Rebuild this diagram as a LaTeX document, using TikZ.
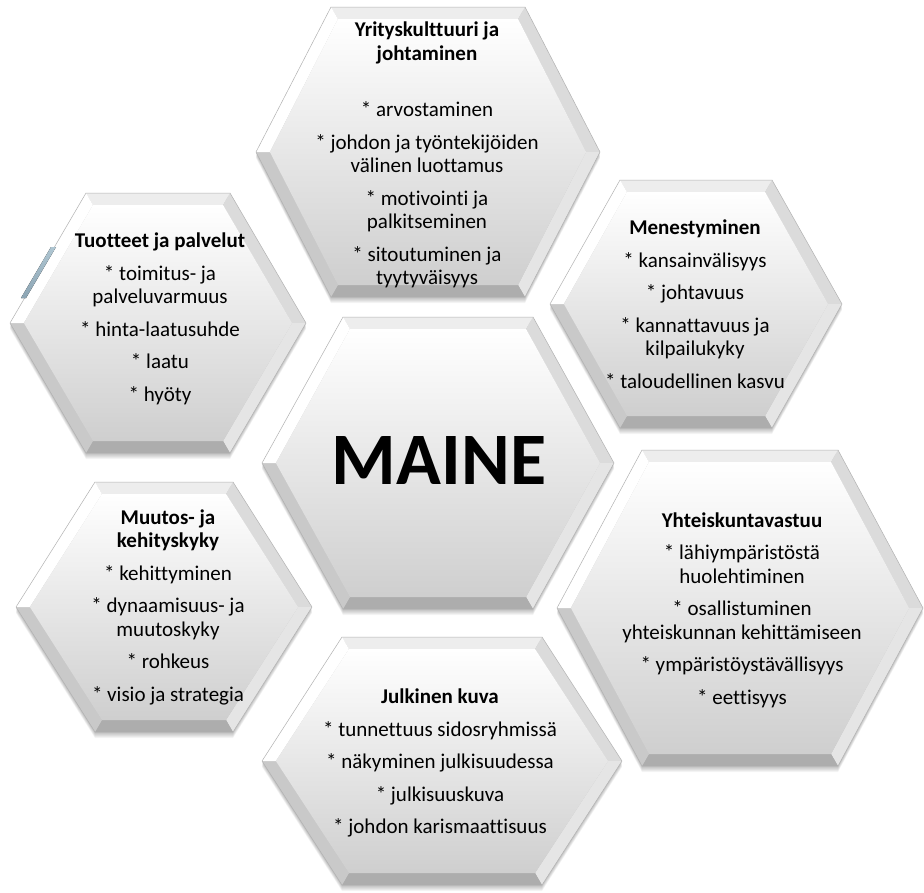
\documentclass[tikz,border=0pt]{standalone}
\usepackage{fontspec}
\setmainfont{Carlito}[Ligatures=NoCommon]
\newcommand\bevw{12}
\tikzset{
  hexface/.style={top color=white, bottom color=black!19},
  celltext/.style={align=center, font=\fontsize{21}{23.5}\selectfont, inner sep=0pt},
  rim/.style={draw=black!30, line width=0.5pt, line join=round},
}
% #1 cx, #2 cy, #3 half top edge, #4 half width, #5 half height
\newcommand\hexcell[5]{%
  \pgfmathsetmacro\xl{#1-#4}%
  \pgfmathsetmacro\xr{#1+#4}%
  \pgfmathsetmacro\xa{#1-#3}%
  \pgfmathsetmacro\xb{#1+#3}%
  \pgfmathsetmacro\yt{#2-#5}%
  \pgfmathsetmacro\yb{#2+#5}%
  \pgfmathsetmacro\ixl{\xl+1.155*\bevw}%
  \pgfmathsetmacro\ixr{\xr-1.155*\bevw}%
  \pgfmathsetmacro\ixa{\xa+0.577*\bevw}%
  \pgfmathsetmacro\ixb{\xb-0.577*\bevw}%
  \pgfmathsetmacro\iyt{\yt+\bevw}%
  \pgfmathsetmacro\iyb{\yb-\bevw}%
  \foreach \s in {1,...,6}{\fill[black,opacity=0.045,shift={(0,\s)}] (\xa,\yt)--(\xb,\yt)--(\xr,#2)--(\xb,\yb)--(\xa,\yb)--(\xl,#2)--cycle;}
  \fill[black!7] (\xa,\yt)--(\xb,\yt)--(\ixb,\iyt)--(\ixa,\iyt)--cycle;
  \fill[black!14] (\xb,\yt)--(\xr,#2)--(\ixr,#2)--(\ixb,\iyt)--cycle;
  \fill[black!10] (\xr,#2)--(\xb,\yb)--(\ixb,\iyb)--(\ixr,#2)--cycle;
  \fill[black!32] (\xb,\yb)--(\xa,\yb)--(\ixa,\iyb)--(\ixb,\iyb)--cycle;
  \fill[black!21] (\xa,\yb)--(\xl,#2)--(\ixl,#2)--(\ixa,\iyb)--cycle;
  \fill[white] (\xl,#2)--(\xa,\yt)--(\ixa,\iyt)--(\ixl,#2)--cycle;
  \shade[hexface] (\ixa,\iyt)--(\ixb,\iyt)--(\ixr,#2)--(\ixb,\iyb)--(\ixa,\iyb)--(\ixl,#2)--cycle;
  \draw[rim] (\xa,\yt)--(\xb,\yt)--(\xr,#2)--(\xb,\yb)--(\xa,\yb)--(\xl,#2)--cycle;
}
\begin{document}
\begin{tikzpicture}[x=1pt,y=-1pt]
\useasboundingbox (0,0) rectangle (924,892);
\fill[white] (0,0) rectangle (924,892);
% hexagons
\hexcell{428}{152}{97}{172}{145}
\hexcell{158}{323}{72}{148}{130}
\hexcell{696}{304}{76}{146}{124}
\hexcell{438}{463}{95}{176}{146}
\hexcell{164}{607}{69}{148}{125}
\hexcell{740}{608}{98}{183}{158}
\hexcell{442}{761}{100}{180}{124}
% small bluish sliver on the left hexagon
\fill[top color={rgb,255:red,175;green,198;blue,210}, bottom color={rgb,255:red,140;green,165;blue,180}] (51,247)--(56,247)--(26,298)--(21,298)--cycle;
% texts
\node[celltext] (yritys) at (427,155) {\textbf{Yrityskulttuuri ja}\\\textbf{johtaminen}\\[33pt]{*} arvostaminen\\[9pt]{*} johdon ja työntekijöiden\\välinen luottamus\\[9pt]{*} motivointi ja\\palkitseminen\\[9pt]{*} sitoutuminen ja\\tyytyväisyys};
\node[celltext] (tuotteet) at (160,319) {\textbf{Tuotteet ja palvelut}\\[9pt]{*} toimitus- ja\\palveluvarmuus\\[9pt]{*} hinta-laatusuhde\\[9pt]{*} laatu\\[9pt]{*} hyöty};
\node[celltext] (menestys) at (695,304) {\textbf{Menestyminen}\\[9pt]{*} kansainvälisyys\\[9pt]{*} johtavuus\\[9pt]{*} kannattavuus ja\\kilpailukyky\\[9pt]{*} taloudellinen kasvu};
\node[celltext] (yhteis) at (742,610) {\textbf{Yhteiskuntavastuu}\\[9pt]{*} lähiympäristöstä\\huolehtiminen\\[9pt]{*} osallistuminen\\yhteiskunnan kehittämiseen\\[9pt]{*} ympäristöystävällisyys\\[9pt]{*} eettisyys};
\node[celltext] (julkinen) at (440,763) {\textbf{Julkinen kuva}\\[9pt]{*} tunnettuus sidosryhmissä\\[9pt]{*} näkyminen julkisuudessa\\[9pt]{*} julkisuuskuva\\[9pt]{*} johdon karismaattisuus};
\node[celltext] (muutos) at (168,607) {\textbf{Muutos- ja}\\\textbf{kehityskyky}\\[9pt]{*} kehittyminen\\[9pt]{*} dynaamisuus- ja\\muutoskyky\\[9pt]{*} rohkeus\\[9pt]{*} visio ja strategia};
\node[inner sep=0pt, font=\fontsize{74}{80}\selectfont\bfseries] (maine) at (439,461) {MAINE};
\end{tikzpicture}
\end{document}
